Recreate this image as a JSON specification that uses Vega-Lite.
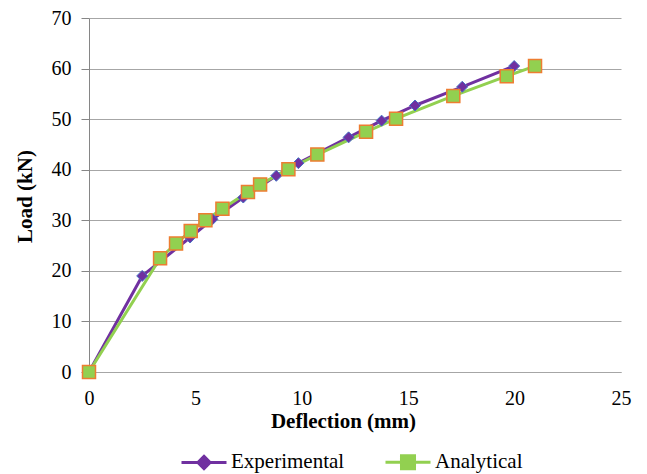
{
  "$schema": "https://vega.github.io/schema/vega-lite/v6.json",
  "width": 532,
  "height": 354,
  "autosize": {"type": "none"},
  "padding": {"left": 89, "top": 18, "right": 26, "bottom": 102},
  "background": "white",
  "config": {
    "view": {"stroke": null},
    "font": "Liberation Serif, Times New Roman, serif",
    "axis": {"labelFont": "Liberation Serif, Times New Roman, serif", "titleFont": "Liberation Serif, Times New Roman, serif", "labelColor": "black", "titleColor": "black"},
    "legend": {"labelFont": "Liberation Serif, Times New Roman, serif"}
  },
  "data": {
    "values": [
      {"series": "Experimental", "d": 0, "load": 0},
      {"series": "Experimental", "d": 2.5, "load": 19.0},
      {"series": "Experimental", "d": 4.75, "load": 26.6},
      {"series": "Experimental", "d": 5.8, "load": 30.2},
      {"series": "Experimental", "d": 7.25, "load": 34.5},
      {"series": "Experimental", "d": 8.8, "load": 38.8},
      {"series": "Experimental", "d": 9.84, "load": 41.3},
      {"series": "Experimental", "d": 12.2, "load": 46.4},
      {"series": "Experimental", "d": 13.75, "load": 49.7},
      {"series": "Experimental", "d": 15.32, "load": 52.7},
      {"series": "Experimental", "d": 17.54, "load": 56.4},
      {"series": "Experimental", "d": 19.98, "load": 60.5},
      {"series": "Analytical", "d": 0, "load": 0},
      {"series": "Analytical", "d": 3.34, "load": 22.5},
      {"series": "Analytical", "d": 4.09, "load": 25.4},
      {"series": "Analytical", "d": 4.78, "load": 27.9},
      {"series": "Analytical", "d": 5.47, "load": 30.0},
      {"series": "Analytical", "d": 6.27, "load": 32.3},
      {"series": "Analytical", "d": 7.47, "load": 35.6},
      {"series": "Analytical", "d": 8.04, "load": 37.1},
      {"series": "Analytical", "d": 9.37, "load": 40.1},
      {"series": "Analytical", "d": 10.73, "load": 43.0},
      {"series": "Analytical", "d": 13.02, "load": 47.5},
      {"series": "Analytical", "d": 14.43, "load": 50.1},
      {"series": "Analytical", "d": 17.12, "load": 54.6},
      {"series": "Analytical", "d": 19.63, "load": 58.5},
      {"series": "Analytical", "d": 20.96, "load": 60.5}
    ]
  },
  "encoding": {
    "x": {
      "field": "d", "type": "quantitative",
      "scale": {"domain": [0, 25], "nice": false, "zero": false},
      "axis": {
        "title": "Deflection (mm)", "values": [0, 5, 10, 15, 20, 25],
        "grid": false, "ticks": false, "tickSize": 0, "domain": true, "domainColor": "#A6A6A6", "domainWidth": 1,
        "labelFont": "Liberation Serif, Times New Roman, serif", "labelFontSize": 20, "labelPadding": 16, "labelBaseline": "top", "labelFlush": false,
        "titleFont": "Liberation Serif, Times New Roman, serif", "titleFontSize": 21, "titleFontWeight": "bold",
        "titleX": 254, "titleY": 49, "titleAlign": "center", "titleBaseline": "middle"
      }
    },
    "y": {
      "field": "load", "type": "quantitative",
      "scale": {"domain": [0, 70], "nice": false},
      "axis": {
        "title": "Load (kN)", "values": [0, 10, 20, 30, 40, 50, 60, 70],
        "grid": true, "gridColor": "#A6A6A6", "gridWidth": 1,
        "domain": true, "domainColor": "#868686", "domainWidth": 1,
        "ticks": true, "tickSize": 8, "tickColor": "#868686",
        "labelFont": "Liberation Serif, Times New Roman, serif", "labelFontSize": 20, "labelPadding": 10, "labelFlush": false,
        "titleFont": "Liberation Serif, Times New Roman, serif", "titleFontSize": 21, "titleFontWeight": "bold",
        "titleX": -64, "titleY": 178, "titleAngle": -90, "titleAlign": "center", "titleBaseline": "middle"
      }
    }
  },
  "layer": [
    {
      "mark": {"type": "line", "strokeWidth": 3},
      "encoding": {
        "color": {
          "field": "series", "type": "nominal",
          "scale": {"domain": ["Experimental", "Analytical"], "range": ["#7030A0", "#92D050"]},
          "legend": {
            "title": null, "orient": "none", "direction": "horizontal",
            "legendX": 91, "legendY": 420, "padding": 0,
            "symbolSize": 2025, "labelFont": "Liberation Serif, Times New Roman, serif", "labelFontSize": 21, "labelOffset": 3, "columnPadding": 34,
            "labelColor": "black",
            "encode": {
              "symbols": {
                "update": {
                  "shape": [
                    {"test": "datum.label === 'Experimental'", "value": "M-1,0L1,0M0,-0.27L0.27,0L0,0.27L-0.27,0Z"},
                    {"value": "M-1,0L1,0M-0.29,-0.29L0.29,-0.29L0.29,0.29L-0.29,0.29Z"}
                  ],
                  "fill": [
                    {"test": "datum.label === 'Experimental'", "value": "#7030A0"},
                    {"value": "#92D050"}
                  ],
                  "stroke": [
                    {"test": "datum.label === 'Experimental'", "value": "#7030A0"},
                    {"value": "#92D050"}
                  ],
                  "strokeWidth": {"value": 3},
                  "opacity": {"value": 1},
                  "fillOpacity": {"value": 1}
                }
              }
            }
          }
        }
      }
    },
    {
      "transform": [{"filter": "datum.series === 'Experimental'"}],
      "mark": {"type": "point", "shape": "diamond", "filled": true, "size": 121, "fill": "#7030A0", "stroke": "#4472C4", "strokeWidth": 1, "opacity": 1}
    },
    {
      "transform": [{"filter": "datum.series === 'Analytical'"}],
      "mark": {"type": "point", "shape": "square", "filled": true, "size": 169, "fill": "#92D050", "stroke": "#ED7D31", "strokeWidth": 1.5, "opacity": 1}
    }
  ]
}
